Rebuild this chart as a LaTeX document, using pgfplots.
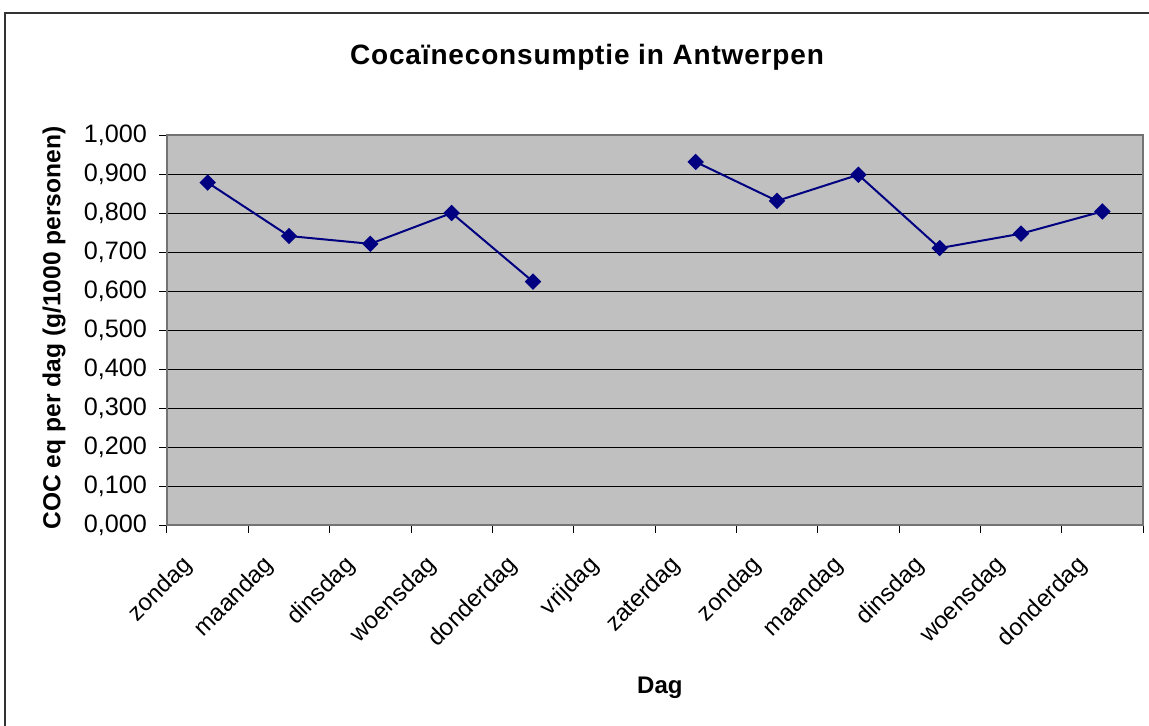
\documentclass[border=0pt]{standalone}
\usepackage{pgfplots}
\pgfplotsset{compat=1.18}
\usepackage{fontspec}
\setmainfont{Liberation Sans}
\definecolor{navyline}{HTML}{000080}
\definecolor{plotbg}{HTML}{C0C0C0}
\begin{document}
\begin{tikzpicture}
\useasboundingbox (-83.5pt,-100pt) rectangle (491pt,262.5pt);
\fill[white] (-83.5pt,-100pt) rectangle (491pt,262.5pt);
\draw[black!80, line width=0.8pt] (-81pt,-101pt) -- (-81pt,256pt) -- (492pt,256pt);
\begin{axis}[
  at={(0,0)}, anchor=south west,
  scale only axis,
  width=488pt, height=195pt,
  xmin=0.5, xmax=12.5,
  ymin=0, ymax=1,
  axis background/.style={fill=plotbg},
  axis line style={draw=black!55, line width=0.6pt},
  xtick={1,...,12},
  xticklabels={zondag,maandag,dinsdag,woensdag,donderdag,vrijdag,zaterdag,zondag,maandag,dinsdag,woensdag,donderdag},
  major x tick style={draw=none},
  minor xtick={0.5,1.5,...,12.5},
  minor x tick style={draw=black, line width=0.5pt},
  ytick={0,0.1,...,1.01},
  y tick style={draw=black, line width=0.5pt},
  tick align=outside,
  major tick length=4pt, minor tick length=4pt,
  tick pos=left,
  ymajorgrids,
  major grid style={draw=black, line width=0.5pt},
  yticklabel={\pgfmathprintnumber[fixed, fixed zerofill, precision=3, use comma, assume math mode=true]{\tick}},
  ticklabel style={font=\fontsize{12}{14}\selectfont},
  y tick label style={font=\fontsize{12.6}{14}\selectfont, xshift=-2.5pt},
  x tick label style={xshift=-7pt, yshift=-12pt, rotate=45, anchor=east},
  xlabel={Dag},
  ylabel={COC eq per dag (g/1000 personen)},
  xlabel style={font=\bfseries\fontsize{12}{14}\selectfont, at={(axis description cs:0.505,-0.418)}, anchor=center},
  ylabel style={font=\bfseries\fontsize{12.3}{14}\selectfont, at={(axis description cs:-0.1158,0.505)}, anchor=center},
  unbounded coords=jump,
  clip=false,
]
\addplot[navyline, line width=1pt, mark=square*, mark size=2.4pt, mark options={rotate=45, fill=navyline, draw=navyline}]
coordinates {
(1,0.878) (2,0.741) (3,0.721) (4,0.800) (5,0.624) (6,nan)
(7,0.931) (8,0.831) (9,0.898) (10,0.710) (11,0.747) (12,0.804)
};
\end{axis}
\node[font=\bfseries\fontsize{14}{16}\selectfont\addfontfeature{LetterSpace=3}] at (210pt,234pt) {Cocaïneconsumptie in Antwerpen};
\end{tikzpicture}
\end{document}
